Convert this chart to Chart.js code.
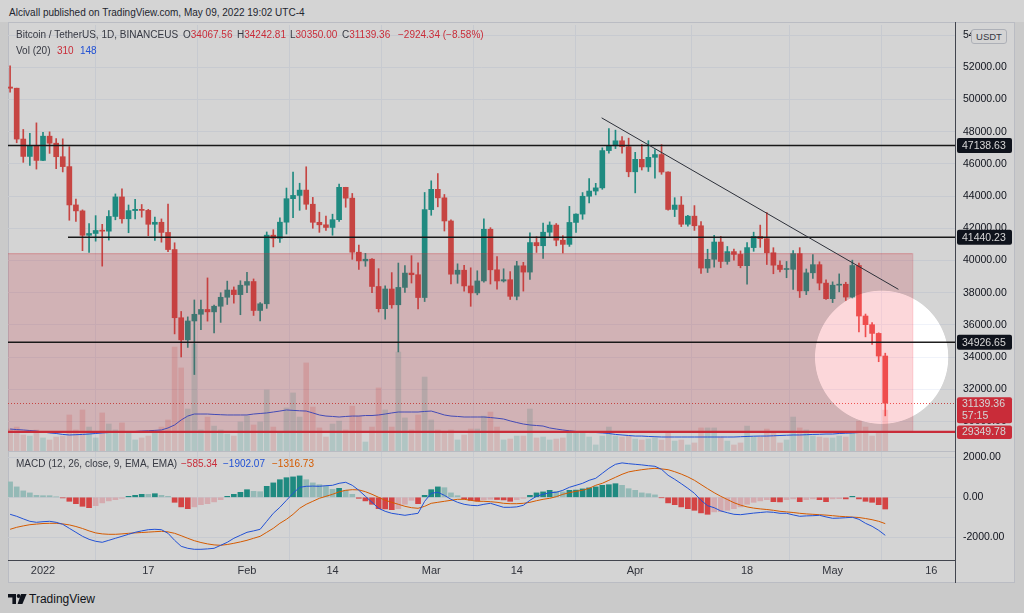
<!DOCTYPE html>
<html>
<head>
<meta charset="utf-8">
<script src="https://cdn.jsdelivr.net/npm/chart.js@4.4.1/dist/chart.umd.min.js"></script>
<style>
  html, body { margin: 0; padding: 0; }
  body { width: 1024px; height: 613px; position: relative; overflow: hidden; background: #f3f3f3;
         font-family: "Liberation Sans", Arial, sans-serif; }
  #head { position: absolute; left: 0; top: 0; width: 1024px; height: 22px; background: #fff; }
  #frame { position: absolute; left: 8px; top: 22px; width: 1007px; height: 561px; background: #fff;
           box-sizing: border-box; border: 1px solid #e0e3eb; }
  canvas { position: absolute; }
  #main { left: 8px; top: 25px; }
  #macd { left: 8px; top: 452px; }
  .txt { position: absolute; white-space: nowrap; font-size: 10px; line-height: 12px; color: #434651; }
  .red { color: #f23645; } .blue { color: #2962ff; } .orange { color: #ff6d00; }
  #axisLine { position: absolute; left: 955px; top: 22px; width: 1px; height: 561px; background: #50535e; }
  #sep { position: absolute; left: 8px; top: 451px; width: 947px; height: 1px; background: #e0e3eb; }
  #usdt { position: absolute; left: 971px; top: 29px; width: 34px; height: 13px; background: #fff;
          border: 1px solid #d1d4dc; border-radius: 3px; font-size: 9.5px; line-height: 13px; text-align: center; color: #434651; }
  #dim { position: absolute; left: 0; top: 0; width: 1024px; height: 613px; pointer-events: none; z-index: 10;
         background: rgba(0,0,0,0.17); }
</style>
</head>
<body>
<div id="head"></div>
<div id="frame"></div>
<canvas id="main" width="1006" height="427"></canvas>
<canvas id="macd" width="1006" height="128"></canvas>
<div id="sep"></div>
<div id="axisLine"></div>
<div id="usdt">USDT</div>

<div class="txt" style="left:9px;top:7px;color:#2a2e39">Alcivall published on TradingView.com, May 09, 2022 19:02 UTC-4</div>
<div class="txt" style="left:16px;top:29px">Bitcoin / TetherUS, 1D, BINANCEUS</div>
<div class="txt" style="left:183px;top:29px">O<span class="red">34067.56</span></div>
<div class="txt" style="left:237px;top:29px">H<span class="red">34242.81</span></div>
<div class="txt" style="left:290px;top:29px">L<span class="red">30350.00</span></div>
<div class="txt" style="left:342px;top:29px">C<span class="red">31139.36</span></div>
<div class="txt red" style="left:398px;top:29px">−2924.34 (−8.58%)</div>
<div class="txt" style="left:16px;top:45px">Vol (20)</div>
<div class="txt red" style="left:57px;top:45px">310</div>
<div class="txt blue" style="left:80px;top:45px">148</div>
<div class="txt" style="left:16px;top:458px">MACD (12, 26, close, 9, EMA, EMA)</div>
<div class="txt red" style="left:181px;top:458px">−585.34</div>
<div class="txt blue" style="left:223px;top:458px">−1902.07</div>
<div class="txt orange" style="left:272px;top:458px">−1316.73</div>
<svg style="position:absolute;left:8px;top:594px" width="19" height="10" viewBox="0 0 19 10">
  <path d="M0 0H8V10H4.4V3.6H0Z" fill="#131722"/>
  <circle cx="10.6" cy="2" r="1.9" fill="#131722"/>
  <path d="M13 0H18.6L14.4 10H9.6Z" fill="#131722"/>
</svg>
<div class="txt" style="left:29px;top:592px;font-size:12px;line-height:14px;color:#131722">TradingView</div>
<div id="dim"></div>

<script>
// daily candles, Dec 27 2021 .. May 9 2022 (index 0 = Dec 27)
const opens = [
  50775, 50701, 47543, 46464, 47120,
  46216, 47722, 47286, 46446, 45832, 43451, 43082, 41566, 41679, 41864,
  41822, 42735, 43949, 42591, 43099, 43177, 43113, 42250, 42375, 41744,
  40680, 36445, 35071, 36244, 36660, 36958, 36809, 37160, 37716, 38166, 37881,
  38466, 38694, 36896, 37311, 41574, 41382, 42380, 43839, 44042, 44372,
  43495, 42373, 42217, 42053, 42535, 44544, 43873, 40515, 39974, 40080,
  38386, 37008, 38230, 37250, 38328, 39219, 39116, 37699,
  43160, 44421, 43892, 42455, 39148, 39397, 38420, 37988, 38730, 41941,
  39422, 38729, 38807, 37777, 39671, 39280, 41114, 40917, 41757, 42201,
  41262, 41002, 42364, 42882, 43991, 44313, 44511, 46827, 47122, 47434, 47067,
  45510, 46283, 45811, 46407, 46580, 45497, 43170, 43444, 42252, 42753,
  42158, 39530, 40074, 41147, 39942, 40552, 40378, 39678, 40801, 41494,
  41358, 40481, 39709, 39441, 39450, 40427, 38112, 39235, 39742, 38596,
  37630, 38468, 38525, 37728, 39690, 36552, 36013, 35472, 34067.56
];
const highs = [
  52088, 50704, 48139, 47900, 48548,
  47954, 47990, 47570, 47557, 47070, 43816, 43145, 42300, 42786, 42248,
  43100, 44135, 44459, 43448, 43800, 43478, 43180, 42691, 42583, 43505,
  41100, 36835, 36499, 37550, 37545, 38919, 37234, 38000, 38720, 38359, 38744,
  39265, 38855, 37387, 41772, 41913, 42656, 44500, 45492, 44799, 45821,
  43920, 43000, 42760, 42876, 44751, 44549, 44164, 40959, 40444, 40125,
  39494, 38430, 39249, 39843, 39683, 40300, 39855, 44225,
  44949, 45400, 44101, 42527, 39794, 39693, 39547, 39362, 42594, 42039,
  40236, 39486, 39310, 39947, 39887, 41718, 41478, 42325, 42400, 42296,
  41544, 43361, 42894, 44220, 45094, 44792, 46999, 48189, 48096, 47700, 47600,
  46720, 47213, 47444, 46890, 47200, 45507, 43900, 43970, 42800, 43410,
  42414, 40699, 41561, 41500, 40870, 40709, 40595, 41116, 41760, 42199,
  42976, 40795, 39980, 39940, 40617, 40797, 39474, 40372, 39921, 38795,
  38675, 39168, 38651, 40023, 39845, 36675, 36146, 35510, 34242.81
];
const lows = [
  50449, 47313, 46096, 45900, 45678,
  46208, 46654, 45696, 45500, 42500, 42430, 40610, 40501, 41200, 39650,
  41268, 42528, 42311, 41725, 42578, 42692, 41540, 41250, 41138, 40553,
  35440, 34008, 34601, 32917, 35701, 36234, 35507, 36155, 37268, 37351, 36632,
  38000, 36586, 36250, 37026, 40843, 41116, 41645, 42666, 43117, 43174,
  42000, 41748, 41870, 41570, 42427, 43307, 40073, 39450, 39639, 38000,
  36800, 36350, 37036, 34322, 38014, 38600, 37000, 37450,
  42809, 43334, 41832, 38550, 38585, 38088, 37155, 37867, 38656, 38539,
  38223, 38660, 37578, 37555, 38098, 38828, 40500, 40135, 41499, 40911,
  40467, 40875, 41751, 42560, 43579, 44072, 44422, 46663, 46950, 46665, 45200,
  44200, 45620, 45530, 45118, 45353, 43121, 42727, 42107, 42125, 41868,
  39200, 39254, 39588, 39551, 39766, 40019, 39546, 38536, 40571, 40820,
  39751, 39177, 39285, 38929, 38200, 37702, 37881, 38881, 38175, 37578,
  37386, 38052, 37517, 37670, 35571, 35258, 34785, 33713, 30350
];
const closes = [
  50701, 47543, 46464, 47120, 46216,
  47722, 47286, 46446, 45832, 43451, 43082, 41566, 41679, 41864, 41822,
  42735, 43949, 42591, 43099, 43177, 43113, 42250, 42375, 41744, 40680,
  36445, 35071, 36244, 36660, 36958, 36809, 37160, 37716, 38166, 37881, 38466,
  38694, 36896, 37311, 41574, 41382, 42380, 43839, 44042, 44372, 43495,
  42373, 42217, 42053, 42535, 44544, 43873, 40515, 39974, 40080, 38386,
  37008, 38230, 37250, 38328, 39219, 39116, 37699, 43160,
  44421, 43892, 42455, 39148, 39397, 38420, 37988, 38730, 41941, 39422,
  38729, 38807, 37777, 39671, 39280, 41114, 40917, 41757, 42201, 41262,
  41002, 42364, 42882, 43991, 44313, 44511, 46827, 47122, 47434, 47067, 45510,
  46283, 45811, 46407, 46580, 45497, 43170, 43444, 42252, 42753, 42158,
  39530, 40074, 41147, 39942, 40552, 40378, 39678, 40801, 41494, 41358,
  40481, 39709, 39441, 39450, 40427, 38112, 39235, 39742, 38596, 37630,
  38468, 38525, 37728, 39690, 36552, 36013, 35472, 34067.56, 31139.36
];
const volumes = [
  170, 185, 126, 118, 163,
  104, 89, 111, 118, 274, 163, 311, 185, 104, 289,
  207, 163, 215, 148, 89, 104, 118, 141, 185, 237,
  777, 622, 318, 799, 163, 259, 192, 163, 133, 118, 222,
  266, 200, 222, 459, 185, 148, 326, 437, 259, 659,
  333, 178, 111, 207, 229, 163, 340, 266, 74, 185,
  474, 311, 185, 740, 252, 163, 274, 555,
  237, 163, 148, 163, 89, 126, 170, 170, 266, 296,
  185, 89, 96, 118, 118, 318, 104, 111, 89, 96,
  104, 148, 141, 141, 111, 52, 118, 185, 118, 111, 118,
  96, 89, 96, 104, 89, 148, 81, 89, 52, 67,
  178, 178, 178, 111, 81, 52, 67, 192, 111, 111,
  170, 148, 67, 89, 259, 178, 163, 118, 111, 104,
  104, 118, 111, 141, 229, 185, 118, 148, 310
];
const volMA = [
  170, 166, 163, 159, 155,
  148, 141, 137, 130, 126, 128, 130, 133, 137, 141,
  144, 146, 148, 150, 152, 155, 157, 160, 163, 178,
  200, 237, 266, 281, 281, 281, 278, 276, 274, 274, 274,
  274, 281, 285, 289, 296, 303, 311, 308, 305, 303,
  289, 274, 266, 263, 259, 263, 266, 266, 270, 270,
  274, 281, 289, 296, 296, 296, 296, 300,
  303, 289, 274, 266, 263, 259, 259, 259, 259, 255,
  250, 244, 230, 218, 207, 200, 196, 192, 178, 170,
  163, 157, 152, 148, 144, 144, 141, 137, 130, 126, 122,
  118, 118, 115, 113, 111, 111, 111, 111, 111, 111,
  111, 111, 111, 111, 111, 111, 113, 115, 117, 118,
  118, 120, 122, 124, 126, 126, 128, 130, 131, 133,
  133, 137, 139, 141, 144, 146, 148, 148, 148
];
const macdLine = [
  -850, -950, -1080, -1200, -1250,
  -1220, -1200, -1250, -1350, -1550, -1750, -1950, -2100, -2200, -2250,
  -2150, -2050, -1950, -1850, -1750, -1680, -1620, -1600, -1620, -1800,
  -2150, -2450, -2550, -2600, -2600, -2580, -2550, -2400, -2250, -2050, -1900,
  -1750, -1680, -1600, -1200, -800, -500, -150, 200, 500, 550,
  560, 550, 580, 600, 700, 750, 600, 350, 50, -250,
  -550, -700, -800, -850, -900, -850, -800, -200,
  200, 250, 100, -100, -250, -350, -400, -420, -350, -300,
  -400, -500, -500, -480, -400, -150, 50, 150, 230, 250,
  350, 500, 600, 700, 850, 950, 1200, 1450, 1650, 1720, 1680,
  1650, 1620, 1580, 1550, 1400, 1100, 900, 680, 450, 200,
  -150, -420, -520, -680, -770, -850, -870, -830, -790, -760,
  -730, -750, -800, -800, -880, -950, -930, -920, -900, -980,
  -1050, -1040, -1020, -1000, -1100, -1300, -1450, -1650, -1900
];
const signalLine = [
  -1600, -1500, -1430, -1370, -1340,
  -1310, -1300, -1300, -1330, -1380, -1460, -1560, -1680, -1780, -1830,
  -1850, -1850, -1830, -1800, -1780, -1760, -1740, -1720, -1700, -1730,
  -1800, -1920, -2050, -2170, -2260, -2330, -2380, -2400, -2360, -2300, -2230,
  -2150, -2050, -1950, -1750, -1550, -1300, -1100, -850, -550, -350,
  -200, -50, 50, 150, 270, 350, 380, 370, 280, 150,
  0, -150, -250, -350, -450, -520, -550, -450,
  -300, -250, -200, -150, -100, -100, -150, -200, -200, -220,
  -250, -300, -320, -320, -300, -250, -170, -100, -50, 30,
  150, 230, 300, 350, 450, 600, 700, 850, 1000, 1150, 1270,
  1330, 1380, 1420, 1450, 1420, 1380, 1280, 1160, 1020, 850,
  640, 430, 230, 50, -110, -270, -390, -480, -540, -580,
  -610, -650, -700, -730, -760, -800, -830, -850, -870, -890,
  -920, -950, -970, -990, -1010, -1060, -1120, -1200, -1316.73
];
const histogram = [
  770, 520, 320, 220, 100,
  80, 80, 20, -30, -200, -320, -450, -520, -420, -280,
  -180, -120, -50, 50, 100, 150, 150, 180, 100, 50,
  -250, -480, -570, -480, -370, -320, -230, -120, 50, 150, 250,
  380, 300, 280, 550, 720, 880, 980, 1020, 1070, 880,
  720, 630, 550, 400, 450, 350, 150, -50, -180, -350,
  -570, -580, -620, -570, -350, -150, -320, 100,
  380, 520, 480, 220, 80, -80, -150, -180, -120, -100,
  -110, -130, -200, -120, -50, 100, 220, 270, 350, 300,
  270, 350, 360, 420, 470, 520, 600, 630, 680, 600, 430,
  350, 220, 180, 120, -20, -280, -370, -480, -570, -650,
  -780, -850, -730, -720, -650, -570, -480, -350, -250, -180,
  -120, -220, -230, -120, -80, -220, -120, -80, -120, -220,
  -80, -70, -80, 50, -80, -200, -250, -370, -585.34
];

const TICK_DAYS = [5, 21, 36, 49, 64, 77, 95, 112, 125, 140];
const TICK_LABELS = ['2022', '17', 'Feb', '14', 'Mar', '14', 'Apr', '18', 'May', '16'];
const PRICE_TICKS = [30000, 32000, 34000, 36000, 38000, 40000, 42000, 44000, 46000, 48000, 50000, 52000, 54000];
const MACD_TICKS = [-2000, 0, 2000];

// chart drawings (price levels, zone, trend line)
const LEVELS = [
  { price: 47138.63, from: -5, color: '#1e1e1e' },
  { price: 41440.23, from: 8.8, color: '#1e1e1e' },
  { price: 34926.65, from: -5, color: '#1e1e1e' },
];
const SUPPORT = 29349.78;
const LAST_PRICE = 31139.36;
const ZONE = { from: -5, to: 137.1, top: 40450, bottom: 29349.78 };
const TREND = { x0: 89.9, y0: 48860, x1: 135.0, y1: 38210 };
const SPOT = { day: 132.45, price: 33990, r: 67 };

const X_MIN = -0.32, X_MAX = 143.6;
const UP = '#26a69a', DOWN = '#ef5350';
const GRID = '#f0f3fa';

Chart.defaults.font.family = '"Liberation Sans", Arial, sans-serif';

const isUp = closes.map((c, i) => c >= opens[i]);
const histColors = histogram.map((v, i) => {
  const prev = i ? histogram[i - 1] : v;
  if (v >= 0) return prev < v ? '#26a69a' : '#b2dfdb';
  return prev < v ? '#ffcdd2' : '#ff5252';
});

function roundBox(ctx, x, y, w, h, r) {
  ctx.beginPath();
  ctx.moveTo(x + r, y);
  ctx.arcTo(x + w, y, x + w, y + h, r);
  ctx.arcTo(x + w, y + h, x, y + h, r);
  ctx.arcTo(x, y + h, x, y, r);
  ctx.arcTo(x, y, x + w, y, r);
  ctx.closePath();
}

// no label overflow padding: the plot area must fill the canvas exactly
function noPad(s) { s.paddingTop = 0; s.paddingBottom = 0; s.paddingLeft = 0; s.paddingRight = 0; }

const drawings = {
  id: 'drawings',
  afterDatasetsDraw(chart) {
    const { ctx, chartArea: a, scales: { x, y } } = chart;
    ctx.save();
    ctx.beginPath();
    ctx.rect(a.left, a.top, a.right - a.left, a.bottom - a.top);
    ctx.clip();

    const zx0 = x.getPixelForValue(ZONE.from), zx1 = x.getPixelForValue(ZONE.to);
    const zy0 = y.getPixelForValue(ZONE.top), zy1 = y.getPixelForValue(ZONE.bottom);
    ctx.fillStyle = 'rgba(242,54,69,0.2)';
    ctx.fillRect(zx0, zy0, zx1 - zx0, zy1 - zy0);
    ctx.strokeStyle = 'rgba(242,54,69,0.3)';
    ctx.lineWidth = 1;
    ctx.strokeRect(zx0 + 0.5, zy0 + 0.5, zx1 - zx0, zy1 - zy0);

    // last price line
    const py = Math.round(y.getPixelForValue(LAST_PRICE)) + 0.5;
    ctx.setLineDash([1, 2]);
    ctx.strokeStyle = '#ef5350';
    ctx.beginPath(); ctx.moveTo(a.left, py); ctx.lineTo(a.right, py); ctx.stroke();
    ctx.setLineDash([]);

    LEVELS.forEach(l => {
      const ly = y.getPixelForValue(l.price);
      ctx.strokeStyle = l.color; ctx.lineWidth = 1.5;
      ctx.beginPath(); ctx.moveTo(x.getPixelForValue(l.from), ly); ctx.lineTo(a.right, ly); ctx.stroke();
    });

    const sy = y.getPixelForValue(SUPPORT);
    ctx.strokeStyle = '#f23645'; ctx.lineWidth = 2.2;
    ctx.beginPath(); ctx.moveTo(a.left, sy); ctx.lineTo(a.right, sy); ctx.stroke();

    ctx.strokeStyle = '#363a45'; ctx.lineWidth = 1;
    ctx.beginPath();
    ctx.moveTo(x.getPixelForValue(TREND.x0), y.getPixelForValue(TREND.y0));
    ctx.lineTo(x.getPixelForValue(TREND.x1), y.getPixelForValue(TREND.y1));
    ctx.stroke();
    ctx.restore();
  },
  afterDraw(chart) {
    const { ctx, chartArea: a, scales: { y } } = chart;
    const bx = a.right + 2, bw = 55;
    ctx.save();
    ctx.font = '10.5px "Liberation Sans", Arial, sans-serif';
    ctx.textBaseline = 'middle';
    ctx.textAlign = 'left';
    LEVELS.forEach(l => {
      const ly = y.getPixelForValue(l.price);
      ctx.fillStyle = '#131722';
      roundBox(ctx, bx, ly - 7.5, bw, 15, 2); ctx.fill();
      ctx.fillStyle = '#fff';
      ctx.fillText(l.price.toFixed(2), bx + 5, ly + 0.5);
    });
    const py = y.getPixelForValue(LAST_PRICE);
    ctx.fillStyle = '#f23645';
    roundBox(ctx, bx, py - 6, bw, 26, 2); ctx.fill();
    ctx.fillStyle = '#fff';
    ctx.fillText(LAST_PRICE.toFixed(2), bx + 5, py + 1);
    ctx.fillText('57:15', bx + 5, py + 13);
    const sy = y.getPixelForValue(SUPPORT);
    ctx.fillStyle = '#f23645';
    roundBox(ctx, bx, sy - 6.5, bw, 13.5, 2); ctx.fill();
    ctx.fillStyle = '#fff';
    ctx.fillText(SUPPORT.toFixed(2), bx + 5, sy + 0.5);
    ctx.restore();

    // spotlight: the picture is dimmed everywhere except this circle
    const cv = chart.canvas;
    const cx = cv.offsetLeft + chart.scales.x.getPixelForValue(SPOT.day);
    const cy = cv.offsetTop + y.getPixelForValue(SPOT.price);
    document.getElementById('dim').style.background =
      `radial-gradient(circle ${SPOT.r}px at ${cx}px ${cy}px, rgba(0,0,0,0) ${SPOT.r - 0.8}px, rgba(0,0,0,0.17) ${SPOT.r}px)`;
  }
};

const xTicks = s => { s.ticks = TICK_DAYS.map(v => ({ value: v })); };

new Chart(document.getElementById('main'), {
  type: 'bar',
  data: {
    datasets: [
      { type: 'bar', yAxisID: 'vol', order: 4, grouped: false, barThickness: 5,
        data: volumes.map((v, i) => ({ x: i, y: v })),
        backgroundColor: isUp.map(u => u ? 'rgba(38,166,154,0.2)' : 'rgba(239,83,80,0.2)') },
      { type: 'line', yAxisID: 'vol', order: 3, data: volMA.map((v, i) => ({ x: i, y: v })),
        borderColor: '#2962ff', borderWidth: 1, pointRadius: 0, tension: 0 },
      { type: 'bar', yAxisID: 'y', order: 2, grouped: false, barThickness: 1,
        data: highs.map((h, i) => ({ x: i, y: [lows[i], h] })),
        backgroundColor: isUp.map(u => u ? UP : DOWN) },
      { type: 'bar', yAxisID: 'y', order: 1, grouped: false, barThickness: 5, minBarLength: 1,
        data: opens.map((o, i) => ({ x: i, y: [o, closes[i]] })),
        backgroundColor: isUp.map(u => u ? UP : DOWN) },
    ]
  },
  options: {
    responsive: false, animation: false, events: [],
    layout: { padding: 0 },
    plugins: { legend: { display: false }, tooltip: { enabled: false } },
    scales: {
      x: { type: 'linear', min: X_MIN, max: X_MAX, offset: false,
           grid: { color: GRID, drawTicks: false }, border: { display: false },
           ticks: { display: false }, afterBuildTicks: xTicks,
           afterFit: s => { s.height = 0; noPad(s); } },
      y: { position: 'right', min: 28106, max: 54627,
           grid: { color: GRID, drawTicks: false }, border: { display: false },
           ticks: { color: '#131722', padding: 8, font: { size: 10.5 }, callback: v => v.toFixed(2) },
           afterBuildTicks: s => { s.ticks = PRICE_TICKS.map(v => ({ value: v })); },
           afterFit: s => { s.width = 59; noPad(s); } },
      vol: { display: false, min: 0, max: 3160 }
    }
  },
  plugins: [drawings]
});

new Chart(document.getElementById('macd'), {
  type: 'bar',
  data: {
    datasets: [
      { type: 'line', order: 1, data: macdLine.map((v, i) => ({ x: i, y: v })),
        borderColor: '#2962ff', borderWidth: 1, pointRadius: 0, tension: 0 },
      { type: 'line', order: 2, data: signalLine.map((v, i) => ({ x: i, y: v })),
        borderColor: '#ff6d00', borderWidth: 1, pointRadius: 0, tension: 0 },
      { type: 'bar', order: 3, grouped: false, barThickness: 5,
        data: histogram.map((v, i) => ({ x: i, y: v })), backgroundColor: histColors },
    ]
  },
  options: {
    responsive: false, animation: false, events: [],
    layout: { padding: 0 },
    plugins: { legend: { display: false }, tooltip: { enabled: false } },
    scales: {
      x: { type: 'linear', min: X_MIN, max: X_MAX, offset: false,
           grid: { color: GRID, drawTicks: false }, border: { display: true, color: '#50535e' },
           ticks: { color: '#3b3e48', padding: 4, font: { size: 11 }, maxRotation: 0,
                    callback: v => TICK_LABELS[TICK_DAYS.indexOf(v)] },
           afterBuildTicks: xTicks, afterFit: s => { s.height = 20; noPad(s); } },
      y: { position: 'right', min: -3135, max: 2265,
           grid: { color: GRID, drawTicks: false }, border: { display: false },
           ticks: { color: '#131722', padding: 8, font: { size: 10.5 }, callback: v => v.toFixed(2) },
           afterBuildTicks: s => { s.ticks = MACD_TICKS.map(v => ({ value: v })); },
           afterFit: s => { s.width = 59; noPad(s); } }
    }
  }
});
</script>
</body>
</html>
